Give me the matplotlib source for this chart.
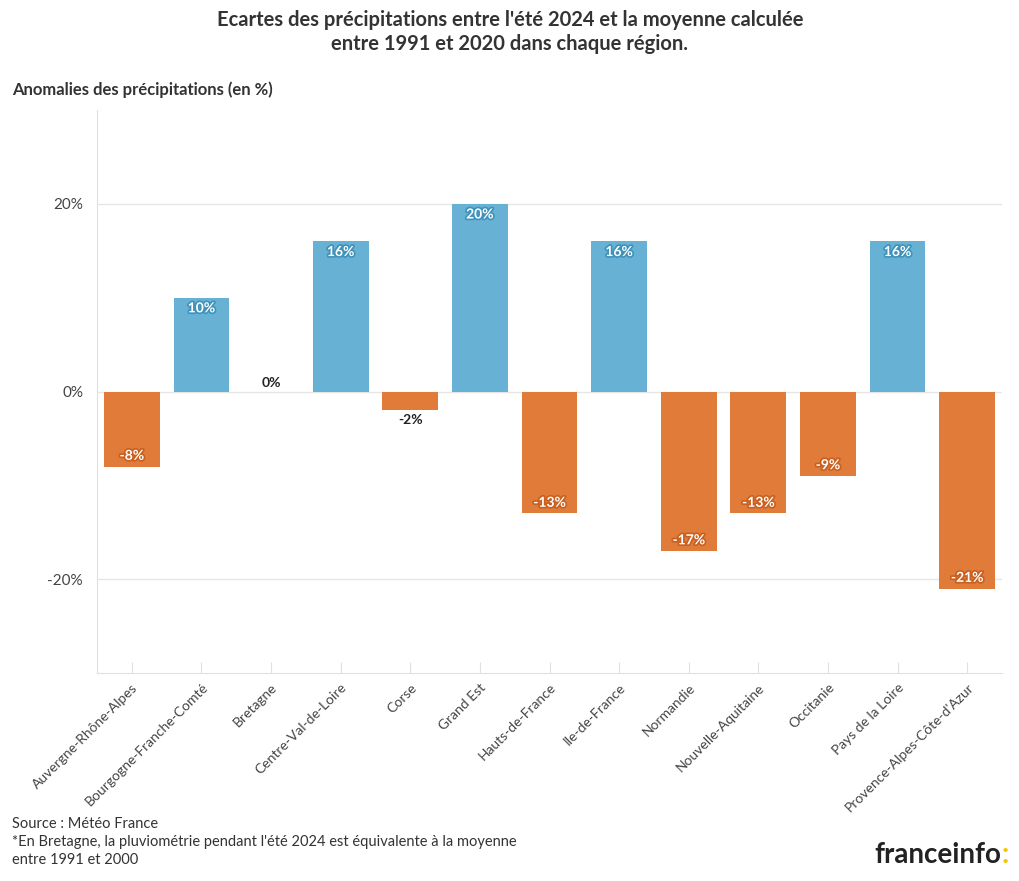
import matplotlib.pyplot as plt
import matplotlib.patheffects as pe

plt.rcParams['font.family'] = ['Lato', 'DejaVu Sans']

regions = ['Auvergne-Rhône-Alpes', 'Bourgogne-Franche-Comté', 'Bretagne', 'Centre-Val-de-Loire',
           'Corse', 'Grand Est', 'Hauts-de-France', 'Ile-de-France', 'Normandie',
           'Nouvelle-Aquitaine', 'Occitanie', 'Pays de la Loire', 'Provence-Alpes-Côte-d\'Azur']
anomalies = [-8, 10, 0, 16, -2, 20, -13, 16, -17, -13, -9, 16, -21]
yticks = [-20, 0, 20]

blue = '#67b2d4'
orange = '#e07b3a'

fig = plt.figure(figsize=(10.2, 8.81), dpi=100)
ax = fig.add_axes([97/1020, 1-673/881, 905/1020, 563/881])

colors = [blue if v > 0 else orange for v in anomalies]
x = range(len(regions))
ax.bar(x, anomalies, width=0.8, color=colors, zorder=2)

for i, v in enumerate(anomalies):
    lab = f'{v}%'
    if abs(v) >= 5:
        # label inside the bar end
        edge = '#3f93bb' if v > 0 else '#c9601f'
        ypos = v - 0.5 if v > 0 else v + 0.5
        ax.text(i, ypos, lab, ha='center', va='top' if v > 0 else 'bottom',
                color='white', fontsize=10, fontweight='bold', zorder=3,
                path_effects=[pe.withStroke(linewidth=2.5, foreground=edge)])
    elif v == 0:
        ax.text(i, 0.3, lab, ha='center', va='bottom', color='#222222',
                fontsize=10, fontweight='bold', zorder=3)
    else:
        ax.text(i, v - 0.4, lab, ha='center', va='top', color='#222222',
                fontsize=10, fontweight='bold', zorder=3)

ax.set_xlim(-0.5, len(regions) - 0.5)
ax.set_ylim(-30, 30)
ax.set_yticks(yticks)
ax.set_yticklabels([f'{t}%' for t in yticks])
ax.set_xticks(list(x))
ax.set_xticklabels(regions, rotation=45, ha='right', rotation_mode='anchor')
ax.grid(axis='y', color='#e6e6e6', linewidth=1, zorder=0)
ax.tick_params(axis='y', length=0, labelsize=11, labelcolor='#444444', pad=10)
ax.tick_params(axis='x', direction='in', length=8, color='#e0e0e0', labelsize=10,
               labelcolor='#444444', pad=6)
for s in ['top', 'right']:
    ax.spines[s].set_visible(False)
for s in ['left', 'bottom']:
    ax.spines[s].set_color('#e0e0e0')

fig.text(0.5, 1-32/881, "Ecartes des précipitations entre l'été 2024 et la moyenne calculée\nentre 1991 et 2020 dans chaque région.",
         ha='center', va='center', fontsize=14.5, fontweight='bold', color='#333333', linespacing=1.25)
fig.text(12/1020, 1-90/881, 'Anomalies des précipitations (en %)', ha='left', va='center',
         fontsize=12, fontweight='bold', color='#333333')
fig.text(12/1020, 1-824/881, 'Source : Météo France', ha='left', va='center', fontsize=10.5, color='#333333')
fig.text(12/1020, 1-851/881, "*En Bretagne, la pluviométrie pendant l'été 2024 est équivalente à la moyenne\nentre 1991 et 2000",
         ha='left', va='center', fontsize=10.5, color='#333333', linespacing=1.3)
fig.text(1001/1020, 1-855/881, 'franceinfo', ha='right', va='center', fontsize=20,
         fontweight='bold', color='#222222')
fig.text(1002/1020, 1-855/881, ':', ha='left', va='center', fontsize=20,
         fontweight='bold', color='#f5c400')

fig.savefig('out.png', dpi=100)
